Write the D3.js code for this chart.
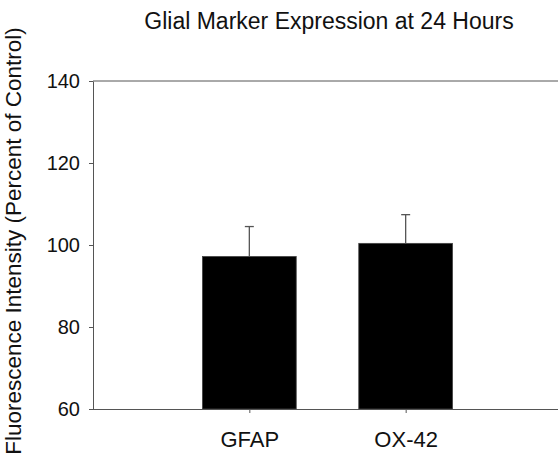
<!DOCTYPE html>
<html>
<head>
<meta charset="utf-8">
<script src="https://cdn.jsdelivr.net/npm/d3@7"></script>
<style>
  html, body { margin: 0; padding: 0; background: #fff; }
  svg { display: block; font-family: "Liberation Sans", Arial, sans-serif; }
</style>
</head>
<body>
<svg id="chart" width="558" height="465"></svg>
<script>
// Glial marker fluorescence, percent of control, mean ± SEM
const categories = ["GFAP", "OX-42"];
const means = [97.2, 100.4];
const errors = [7.3, 7.0];
const yTicks = [60, 80, 100, 120, 140];
const title = "Glial Marker Expression at 24 Hours";
const yTitle = "Fluorescence Intensity (Percent of Control)";

const plotLeft = 93, plotTop = 81, plotBottom = 409, plotRight = 558;
const axisColor = "#555";

const svg = d3.select("#chart");

const y = d3.scaleLinear().domain([60, 140]).range([plotBottom, plotTop]);
const x = d3.scalePoint().domain(categories).range([plotLeft, 562]).padding(1);
const barW = x.step() * 0.6;

// frame line along the top of the plot
svg.append("line")
  .attr("x1", plotLeft).attr("x2", plotRight)
  .attr("y1", y(140)).attr("y2", y(140))
  .attr("stroke", axisColor).attr("stroke-width", 1);

// bars
svg.append("g").selectAll("rect")
  .data(categories)
  .join("rect")
  .attr("x", d => x(d) - barW / 2)
  .attr("width", barW)
  .attr("y", (d, i) => y(means[i]))
  .attr("height", (d, i) => y(60) - y(means[i]))
  .attr("fill", "#000")
  .attr("stroke", "#444")
  .attr("stroke-width", 0.8);

// upper error bars
const eb = svg.append("g").attr("stroke", axisColor).attr("stroke-width", 1.3);
categories.forEach((c, i) => {
  const cx = x(c);
  const yt = y(means[i] + errors[i]);
  eb.append("line").attr("x1", cx).attr("x2", cx)
    .attr("y1", y(means[i])).attr("y2", yt);
  eb.append("line").attr("x1", cx - 4.5).attr("x2", cx + 4.5)
    .attr("y1", yt).attr("y2", yt);
});

// y axis
const yAxis = svg.append("g")
  .attr("transform", `translate(${plotLeft},0)`)
  .call(d3.axisLeft(y).tickValues(yTicks).tickSize(4).tickSizeOuter(0).tickPadding(9));
yAxis.select(".domain").attr("stroke", axisColor);
yAxis.selectAll(".tick line").attr("stroke", axisColor);
yAxis.selectAll(".tick text")
  .attr("fill", "#111").attr("font-size", 20)
  .attr("font-family", "Liberation Sans, Arial, sans-serif");

// x axis
const xAxis = svg.append("g")
  .attr("transform", `translate(0,${plotBottom})`)
  .call(d3.axisBottom(x).tickSize(4).tickSizeOuter(0).tickPadding(18));
xAxis.select(".domain").attr("stroke", axisColor)
  .attr("d", `M${plotLeft},0.5H${plotRight}`);
xAxis.selectAll(".tick line").attr("stroke", axisColor);
xAxis.selectAll(".tick text")
  .attr("fill", "#111").attr("font-size", 22)
  .attr("font-family", "Liberation Sans, Arial, sans-serif");

// title
svg.append("text")
  .attr("x", 329).attr("y", 29)
  .attr("text-anchor", "middle")
  .attr("font-size", 23)
  .attr("fill", "#111")
  .text(title);

// y axis title
svg.append("text")
  .attr("transform", `translate(21,241) rotate(-90)`)
  .attr("text-anchor", "middle")
  .attr("font-size", 22.5)
  .attr("fill", "#111")
  .text(yTitle);
</script>
</body>
</html>
